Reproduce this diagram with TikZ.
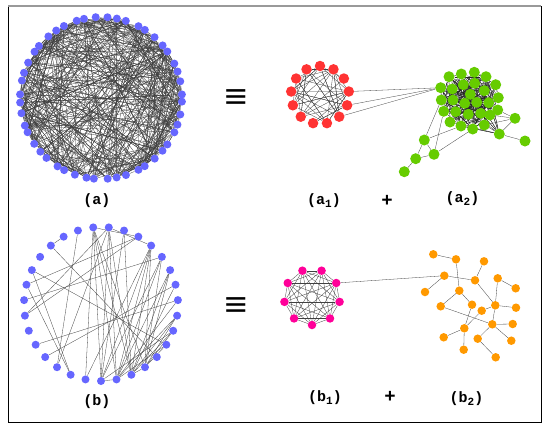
\documentclass[tikz,border=0pt]{standalone}
\usepackage{fontspec}
\setmonofont{Liberation Mono}
\usepackage{tikz}
\usetikzlibrary{backgrounds}

\definecolor{dotblue}{RGB}{102,102,255}
\definecolor{dotred}{RGB}{255,51,51}
\definecolor{dotgreen}{RGB}{102,204,0}
\definecolor{dotpink}{RGB}{255,0,153}
\definecolor{dotorange}{RGB}{255,153,0}

\newcommand{\lowsub}[1]{\raisebox{-3pt}{\fontsize{11}{11}\selectfont #1}}

\begin{document}
\begin{tikzpicture}[
    x=1pt, y=-1pt,
    font=\ttfamily\bfseries\fontsize{15}{17}\selectfont,
    gdot/.style={
        circle,
        inner sep=0pt,
        minimum size=#1
    },
    bluedot/.style={gdot=8pt, fill=dotblue},
    reddot/.style={gdot=10.5pt, fill=dotred},
    greendot/.style={gdot=11pt, fill=dotgreen},
    pinkdot/.style={gdot=8.5pt, fill=dotpink},
    orangedot/.style={gdot=8.5pt, fill=dotorange},
    link/.style={
        draw=black!75,
        line width=0.3pt
    },
    caption/.style={
        inner sep=1pt
    },
    sign/.style={
        font=\ttfamily\bfseries\fontsize{19}{19}\selectfont
    },
    equiv/.style={
        font=\ttfamily\bfseries\fontsize{28}{28}\selectfont
    }
]
    \useasboundingbox (0,0) rectangle (545,426);
    \begin{scope}[on background layer]
        \fill[white] (0,0) rectangle (545,426);
    \end{scope}

    % Frame
    \draw[black, line width=0.8pt] (8,6) rectangle (541,422);
    \draw[gray!80, line width=2pt] (8,6) -- (541,6);

    % Row a: full graph
    \foreach \k in {0,...,47}{
        \pgfmathsetmacro\ang{93.75+7.5*\k+1.3*sin(137*\k)}
        \node[bluedot] (a\k) at ({101+81*cos(\ang)},{98-81*sin(\ang)}) {};
    }
    \begin{scope}[on background layer]
        \pgfmathsetseed{23}
        \foreach \i in {1,...,430}{
            \pgfmathtruncatemacro\r{random(0,2255)}
            \pgfmathtruncatemacro\p{int(\r/47)}
            \pgfmathtruncatemacro\q{mod(\p+1+mod(\r,47),48)}
            \draw[link] (a\p) -- (a\q);
        }
    \end{scope}
    \node[caption] (capa) at (97,201) {(a)};

    \node[equiv] (eqa) at (236,99) {\scalebox{1.4}[1.25]{≡}};

    % Row a: red community
    \foreach \k in {0,...,12}{
        \pgfmathsetmacro\ang{90-360/13*\k}
        \node[reddot] (r\k) at ({320+29*cos(\ang)},{95-29*sin(\ang)}) {};
    }
    \begin{scope}[on background layer]
        \pgfmathsetseed{5}
        \foreach \i in {1,...,46}{
            \pgfmathtruncatemacro\r{random(0,129)}
            \pgfmathtruncatemacro\p{int(\r/10)}
            \pgfmathtruncatemacro\q{mod(\p+2+mod(\r,10),13)}
            \draw[link] (r\p) -- (r\q);
        }
    \end{scope}
    \node[caption] (capa1) at (324,201) {(a\lowsub{1})};

    % Row a: green community
    \foreach \n/\x/\y in {
        1/449/76.7, 2/461.3/74, 3/474.3/72.3, 4/486/76.7, 5/495.7/84.7,
        6/440.7/87.7, 7/452.3/89, 8/463.3/84.7, 9/474.7/83.3, 10/484.3/90.7,
        11/498.3/97.7, 12/441.3/100, 13/453/100, 14/464.7/103.3, 15/476.7/102.3,
        16/488.7/102.7, 17/497.7/110, 18/443.7/111.3, 19/455.7/111.7, 20/468.3/114.3,
        21/480.7/113.3, 22/490/115, 23/450/122, 24/461/126, 25/472.7/129,
        26/484.3/125, 27/499.3/134, 28/470.3/94.3, 29/515/118.3, 30/525/141,
        31/424.3/140, 32/434/154.3, 33/415.7/158.7, 34/404.3/171.7}
        \node[greendot] (g\n) at (\x,\y) {};
    \begin{scope}[on background layer]
        \pgfmathsetseed{41}
        \foreach \i in {1,...,260}{
            \pgfmathtruncatemacro\r{random(0,755)}
            \pgfmathtruncatemacro\p{int(\r/27)}
            \pgfmathtruncatemacro\q{mod(\p+1+mod(\r,27),28)+1}
            \pgfmathtruncatemacro\p{\p+1}
            \draw[link, draw=black!85] (g\p) -- (g\q);
        }
        \foreach \u/\v in {g29/g17, g29/g22, g29/g26, g29/g27, g30/g27,
            g31/g12, g31/g24, g32/g18, g32/g25, g31/g32, g31/g33,
            g32/g33, g33/g34}
            \draw[link] (\u) -- (\v);
        % bridge between a1 and a2
        \foreach \k in {3,4,5}
            \draw[link] (r\k) -- (g6);
    \end{scope}
    \node[sign] (plusa) at (387,201) {+};
    \node[caption] (capa2) at (462.5,199) {(a\lowsub{2})};

    % Row b: full graph
    \foreach \k in {0,...,30}{
        \pgfmathsetmacro\ang{95.806+360/31*\k}
        \node[bluedot] (b\k) at ({101+77*cos(\ang)},{304-77*sin(\ang)}) {};
    }
    \begin{scope}[on background layer]
        \foreach \u/\v in {0/15, 0/16, 0/17, 0/18, 0/28, 0/14,
            30/15, 30/16, 30/17, 30/27, 30/8, 30/12,
            29/15, 29/17, 28/6, 28/8,
            27/15, 27/16, 27/17, 27/18, 27/14,
            26/16, 26/18, 26/7, 26/15,
            25/16, 25/17, 25/18, 24/11, 24/17,
            23/10, 23/16, 22/17, 22/18, 22/16,
            21/17, 21/18, 21/15, 20/18, 20/16,
            19/3, 5/13, 6/13, 1/12, 2/3, 5/20, 15/16, 17/18}
            \draw[link] (b\u) -- (b\v);
    \end{scope}
    \node[caption] (capb) at (97,402) {(b)};

    \node[equiv] (eqb) at (236,307) {\scalebox{1.4}[1.25]{≡}};

    % Row b: pink clique
    \foreach \k in {0,...,8}{
        \pgfmathsetmacro\ang{-90+40*\k}
        \node[pinkdot] (m\k) at ({312+28*cos(\ang)},{297-28*sin(\ang)}) {};
    }
    \begin{scope}[on background layer]
        \foreach \i in {0,...,8}{
            \foreach \j in {0,...,8}{
                \ifnum\i<\j\draw[link] (m\i) -- (m\j);\fi
            }
        }
    \end{scope}
    \node[caption] (capb1) at (325,398) {(b\lowsub{1})};

    % Row b: orange tree
    \foreach \n/\x/\y in {
        1/433.3/254.3, 2/456/259.3, 3/484/261.3, 4/444.3/275.7, 5/475/280.3,
        6/497.7/278.3, 7/515.7/288.3, 8/425/292, 9/459.3/290.7, 10/440.7/306.3,
        11/472/304.7, 12/481.7/310.7, 13/495.3/305.3, 14/516/307.7, 15/492.3/324.3,
        16/512.7/324, 17/464.3/328.3, 18/443.7/337.3, 19/477.7/338.7, 20/511.3/340.7,
        21/463.7/349.7, 22/495.7/357.3}
        \node[orangedot] (o\n) at (\x,\y) {};
    \begin{scope}[on background layer]
        \foreach \u/\v in {1/2, 2/9, 4/5, 4/8, 3/5, 5/13, 6/13, 6/7,
            9/10, 9/11, 10/15, 11/17, 12/13, 12/17, 13/14, 13/15,
            15/16, 15/19, 15/20, 17/18, 17/21, 19/22}
            \draw[link] (o\u) -- (o\v);
        % bridge between b1 and b2
        \draw[link] (m3) -- (o4);
    \end{scope}
    \node[sign] (plusb) at (390,397) {+};
    \node[caption] (capb2) at (466.5,398.5) {(b\lowsub{2})};
\end{tikzpicture}
\end{document}
